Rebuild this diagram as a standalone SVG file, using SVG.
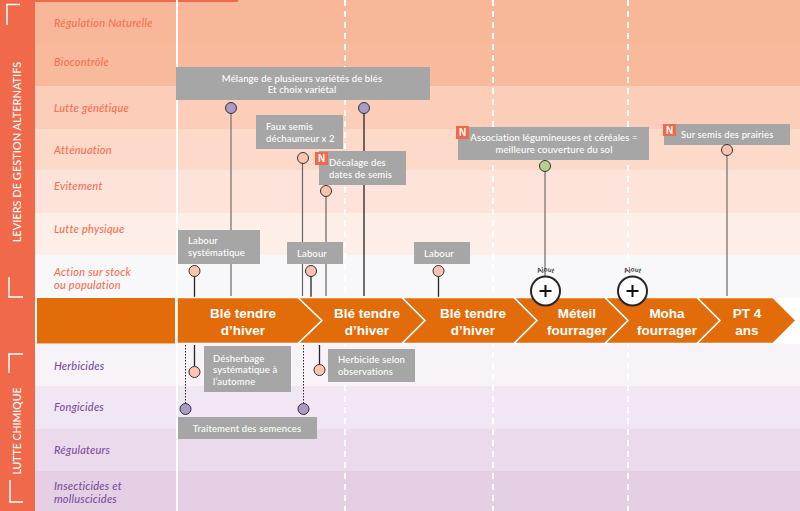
<svg xmlns="http://www.w3.org/2000/svg" width="800" height="511" viewBox="0 0 800 511">
<style>
.lv{font:italic 500 11px Lato,"Open Sans",sans-serif;fill:#f8704f;letter-spacing:.25px}
.lc{font:italic 500 11px Lato,"Open Sans",sans-serif;fill:#7b4fa0;letter-spacing:.2px}
.side{font:500 11px Lato,"Open Sans",sans-serif;fill:#fff}
.box{fill:#a6a6a6}
.bt{font:500 9.500px Lato,"Open Sans",sans-serif;fill:#fff;letter-spacing:.13px}
.m{text-anchor:middle}
.ch{fill:#e36c0a;stroke:#fff;stroke-width:1.500}
.cht{font:bold 13.500px "Liberation Sans",Arial,sans-serif;fill:#fff;text-anchor:middle}
.ln{stroke:#262626;stroke-width:1.300;fill:none}
.lm{stroke:#666;stroke-width:1.200;fill:none}
.lg{stroke:#8c8480;stroke-width:1.500;fill:none}
.dot{stroke:#262626;stroke-width:1;stroke-dasharray:1.500 1.500;fill:none}
.pin{stroke:#333;stroke-width:1}
.p{fill:#fcc4b0}.v{fill:#a99bc4}.g{fill:#b5d18f}
.wd{stroke:#fff;stroke-width:2;stroke-dasharray:6 5;fill:none}
.corner{stroke:#fff;stroke-width:1.500;fill:none}
.nb{fill:#f0694a}
.nt{font:bold 10px "Liberation Sans",Arial,sans-serif;fill:#fff;text-anchor:middle}
.aj{font:bold 6.500px Lato,sans-serif;fill:#333;text-anchor:middle}
</style>
<defs><path id="arc1" d="M528 284 A18.500 18.500 0 0 1 563 284"/><path id="arc2" d="M615 284 A18.500 18.500 0 0 1 650 284"/></defs>
<g id="bands">
<rect width="800" height="511" fill="#fff"/>
<rect x="35" y="0" width="765" height="44" fill="#f9b79a"/>
<rect x="35" y="44" width="765" height="42" fill="#f9b99d"/>
<rect x="35" y="86" width="765" height="43" fill="#fccdb9"/>
<rect x="35" y="129" width="765" height="41" fill="#fdd9c9"/>
<rect x="35" y="170" width="765" height="43" fill="#fee3da"/>
<rect x="35" y="213" width="765" height="42" fill="#fdeee7"/>
<rect x="35" y="255" width="765" height="43" fill="#f8f8fb"/>
<rect x="35" y="344" width="765" height="42" fill="#f8f2f9"/>
<rect x="35" y="386" width="765" height="43" fill="#f1e6f3"/>
<rect x="35" y="429" width="765" height="42" fill="#ebd9ec"/>
<rect x="35" y="471" width="765" height="40" fill="#e5cfe5"/>
<rect x="0" y="0" width="238" height="2" fill="#f0694a"/>
</g>
<g id="sidebar">
<rect x="0" y="0" width="35" height="511" fill="#f0694a"/>
<path class="corner" d="M20 4.500H7V25M9 277V297H23M23 354H9V373M10 480V502H23"/>
<text class="side m" transform="translate(21,152) rotate(-90)">LEVIERS DE GESTION ALTERNATIFS</text>
<text class="side m" transform="translate(21,431) rotate(-90)" style="font-size:10.500px">LUTTE CHIMIQUE</text>
</g>
<g id="row-labels">
<text class="lv" x="54" y="27">Régulation Naturelle</text>
<text class="lv" x="54" y="66">Biocontrôle</text>
<text class="lv" x="54" y="112">Lutte génétique</text>
<text class="lv" x="54" y="154">Atténuation</text>
<text class="lv" x="54" y="190">Evitement</text>
<text class="lv" x="54" y="233">Lutte physique</text>
<text class="lv" x="54" y="276">Action sur stock</text>
<text class="lv" x="54" y="289">ou population</text>
<text class="lc" x="54" y="370">Herbicides</text>
<text class="lc" x="54" y="411">Fongicides</text>
<text class="lc" x="54" y="454">Régulateurs</text>
<text class="lc" x="54" y="490">Insecticides et</text>
<text class="lc" x="54" y="503">molluscicides</text>
</g>
<g id="gridlines">
<rect x="176" y="0" width="2" height="511" fill="#fff"/>
<path class="wd" d="M345 0V511M493 0V511M628 0V511"/>
</g>
<g id="connectors">
<path class="lg" d="M231 113V296"/>
<path class="lg" d="M545 171V296"/>
<path class="lg" d="M727 155V296"/>
<path class="ln" d="M364 113V296M194.500 276V297M311 276V298M438.500 276V298M194.500 345V366M319.500 345V366"/>
<path class="lm" d="M302.500 163V296M326 196V296"/>
<path class="dot" d="M185.500 345V405M303.500 345V405"/>
</g>
<g id="chevrons">
<rect x="37" y="298" width="138" height="45.500" fill="#e36c0a"/>
<path class="ch" d="M177 297.500H298L322 320.500L298 343.500H177Z"/>
<path class="ch" d="M298 297.500H402L425 320.500L402 343.500H298L322 320.500Z"/>
<path class="ch" d="M402 297.500H514L537 320.500L514 343.500H402L425 320.500Z"/>
<path class="ch" d="M514 297.500H605L628 320.500L605 343.500H514L537 320.500Z"/>
<path class="ch" d="M605 297.500H697L720 320.500L697 343.500H605L628 320.500Z"/>
<path class="ch" d="M697 297.500H773L796 320.500L773 343.500H697L720 320.500Z"/>
<text class="cht" x="243" y="318">Blé tendre</text><text class="cht" x="243" y="335">d’hiver</text>
<text class="cht" x="367" y="318">Blé tendre</text><text class="cht" x="367" y="335">d’hiver</text>
<text class="cht" x="473" y="318">Blé tendre</text><text class="cht" x="473" y="335">d’hiver</text>
<text class="cht" x="577" y="318">Méteil</text><text class="cht" x="577" y="335">fourrager</text>
<text class="cht" x="667" y="318">Moha</text><text class="cht" x="667" y="335">fourrager</text>
<text class="cht" x="747" y="318">PT 4</text><text class="cht" x="747" y="335">ans</text>
</g>
<g id="node-melange"><rect class="box" x="176" y="67" width="254" height="33"/><text class="bt m" x="302" y="82">Mélange de plusieurs variétés de blés</text><text class="bt m" x="302" y="93">Et choix variétal</text></g>
<g id="node-fauxsemis"><rect class="box" x="256" y="115" width="87" height="34"/><text class="bt" x="266" y="130">Faux semis</text><text class="bt" x="266" y="142">déchaumeur x 2</text></g>
<g id="node-decalage"><rect class="box" x="319" y="151" width="87" height="34"/><rect class="nb" x="315" y="152" width="13" height="13"/><text class="nt" x="321.500" y="162">N</text><text class="bt" x="329" y="166">Décalage des</text><text class="bt" x="329" y="178">dates de semis</text></g>
<g id="node-labour-sys"><rect class="box" x="178" y="230" width="82" height="34"/><text class="bt" x="188" y="244">Labour</text><text class="bt" x="188" y="256">systématique</text></g>
<g id="node-labour-2"><rect class="box" x="287" y="242" width="56" height="22"/><text class="bt" x="297" y="257">Labour</text></g>
<g id="node-labour-3"><rect class="box" x="414" y="242" width="56" height="22"/><text class="bt" x="424" y="257">Labour</text></g>
<g id="node-association"><rect class="box" x="458" y="127" width="191" height="33"/><rect class="nb" x="456" y="126" width="13" height="13"/><text class="nt" x="462.500" y="136">N</text><text class="bt m" x="554" y="141">Association légumineuses et céréales =</text><text class="bt m" x="554" y="153">meilleure couverture du sol</text></g>
<g id="node-surse"><rect class="box" x="664" y="124" width="126" height="21"/><rect class="nb" x="663" y="124" width="13" height="12"/><text class="nt" x="669.500" y="134">N</text><text class="bt" x="681" y="138">Sur semis des prairies</text></g>
<g id="node-desherbage"><rect class="box" x="204" y="346" width="87" height="46"/><text class="bt" x="213" y="362">Désherbage</text><text class="bt" x="213" y="373">systématique à</text><text class="bt" x="213" y="385">l’automne</text></g>
<g id="node-herbicide"><rect class="box" x="328" y="349" width="87" height="33"/><text class="bt" x="338" y="363">Herbicide selon</text><text class="bt" x="338" y="375">observations</text></g>
<g id="node-traitement"><rect class="box" x="178" y="417" width="139" height="22"/><text class="bt m" x="247" y="432">Traitement des semences</text></g>
<g id="pins">
<circle class="pin v" cx="231" cy="108" r="5.500"/><circle class="pin v" cx="364" cy="108" r="5.500"/>
<circle class="pin p" cx="303" cy="158" r="5.500"/><circle class="pin p" cx="326" cy="191" r="5.500"/>
<circle class="pin g" cx="545" cy="166" r="5.500"/><circle class="pin p" cx="727" cy="150" r="5.500"/>
<circle class="pin p" cx="194.500" cy="271" r="5.500"/><circle class="pin p" cx="311" cy="271" r="5.500"/><circle class="pin p" cx="438.500" cy="271" r="5.500"/>
<circle class="pin p" cx="194.500" cy="372" r="5.500"/><circle class="pin p" cx="319.500" cy="370" r="5.500"/>
<circle class="pin v" cx="185.500" cy="409" r="5.500"/><circle class="pin v" cx="303.500" cy="409" r="5.500"/>
</g>
<g id="ajout-1"><circle cx="545.500" cy="291" r="14.500" fill="#fff" stroke="#262626" stroke-width="2"/><path d="M539.500 291H551.500M545.500 285V297" stroke="#111" stroke-width="2"/><text class="aj"><textPath href="#arc1" startOffset="50%">Ajout</textPath></text></g>
<g id="ajout-2"><circle cx="632.500" cy="291" r="14.500" fill="#fff" stroke="#262626" stroke-width="2"/><path d="M626.500 291H638.500M632.500 285V297" stroke="#111" stroke-width="2"/><text class="aj"><textPath href="#arc2" startOffset="50%">Ajout</textPath></text></g>
</svg>
